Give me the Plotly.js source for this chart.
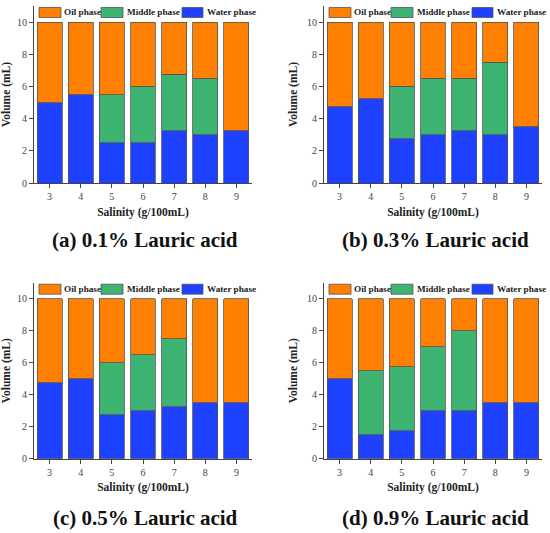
<!DOCTYPE html>
<html>
<head>
<meta charset="utf-8">
<script src="https://cdn.plot.ly/plotly-3.0.1.min.js"></script>
<style>html,body{margin:0;padding:0;background:#fff}#chart{width:550px;height:533px}</style>
</head>
<body>
<div id="chart"></div>
<script>
// ---- data ----
const salinity = [3, 4, 5, 6, 7, 8, 9];
const seriesNames = ['Oil phase', 'Middle phase', 'Water phase'];
const panelTitles = ['(a) 0.1% Lauric acid', '(b) 0.3% Lauric acid', '(c) 0.5% Lauric acid', '(d) 0.9% Lauric acid'];

const waterA  = [5, 5.5, 2.5, 2.5, 3.25, 3, 3.25];
const middleA = [0, 0, 3, 3.5, 3.5, 3.5, 0];
const oilA    = [5, 4.5, 4.5, 4, 3.25, 3.5, 6.75];

const waterB  = [4.75, 5.25, 2.75, 3, 3.25, 3, 3.5];
const middleB = [0, 0, 3.25, 3.5, 3.25, 4.5, 0];
const oilB    = [5.25, 4.75, 4, 3.5, 3.5, 2.5, 6.5];

const waterC  = [4.75, 5, 2.75, 3, 3.25, 3.5, 3.5];
const middleC = [0, 0, 3.25, 3.5, 4.25, 0, 0];
const oilC    = [5.25, 5, 4, 3.5, 2.5, 6.5, 6.5];

const waterD  = [5, 1.5, 1.75, 3, 3, 3.5, 3.5];
const middleD = [0, 4, 4, 4, 5, 0, 0];
const oilD    = [5, 4.5, 4.25, 3, 2, 6.5, 6.5];

const yTicks = [0, 2, 4, 6, 8, 10];

// ---- styling / layout ----
const W = 550, H = 533;
const colors = {oil: '#FF7F00', middle: '#3CB371', water: '#1E40FF'};
const edge = '#555555';
const serif = 'Liberation Serif, Times New Roman, serif';
const px = v => v / W;
const py = v => 1 - v / H;

const panels = [
  {water: waterA, middle: middleA, oil: oilA, left: 34, top: 6,     bottom: 183,   capY: 240},
  {water: waterB, middle: middleB, oil: oilB, left: 324, top: 6,    bottom: 183,   capY: 240},
  {water: waterC, middle: middleC, oil: oilC, left: 34, top: 282.7, bottom: 458.7, capY: 518},
  {water: waterD, middle: middleD, oil: oilD, left: 324, top: 282.7, bottom: 458.7, capY: 518}
];
const axW = 218;

const traces = [];
const layout = {
  width: W, height: H,
  margin: {l: 0, r: 0, t: 0, b: 0},
  paper_bgcolor: '#fff', plot_bgcolor: '#fff',
  barmode: 'stack', bargap: 0.2,
  showlegend: false,
  font: {family: serif, color: '#333'},
  shapes: [], annotations: []
};

panels.forEach((p, i) => {
  const n = i === 0 ? '' : String(i + 1);
  const xa = 'x' + n, ya = 'y' + n;
  const mk = (vals, name, col) => ({
    type: 'bar', x: salinity, y: vals, name: name, xaxis: xa, yaxis: ya,
    marker: {color: col, line: {color: edge, width: 0.8}},
    hoverinfo: 'x+y+name'
  });
  traces.push(mk(p.water, seriesNames[2], colors.water));
  traces.push(mk(p.middle, seriesNames[1], colors.middle));
  traces.push(mk(p.oil, seriesNames[0], colors.oil));

  layout['xaxis' + n] = {
    domain: [px(p.left), px(p.left + axW)], anchor: ya,
    range: [2.5, 9.5], tickvals: salinity, ticktext: salinity.map(String),
    showline: true, linecolor: '#444', linewidth: 1, ticks: 'outside', ticklen: 4, tickcolor: '#444',
    showgrid: false, zeroline: false, fixedrange: true,
    tickfont: {family: serif, size: 10, color: '#444'},
    title: {text: 'Salinity (g/100mL)', font: {family: serif, size: 11.5, color: '#222', weight: 'bold'}, standoff: 6}
  };
  layout['yaxis' + n] = {
    domain: [py(p.bottom), py(p.top)], anchor: xa,
    range: [0, 11], tickvals: yTicks, ticktext: yTicks.map(String),
    showline: true, linecolor: '#444', linewidth: 1, ticks: 'outside', ticklen: 4, tickcolor: '#444',
    showgrid: false, zeroline: false, fixedrange: true,
    tickfont: {family: serif, size: 10, color: '#444'},
    title: {text: 'Volume (mL)', font: {family: serif, size: 11.5, color: '#222', weight: 'bold'}, standoff: 6}
  };

  // custom legend (rectangular swatches)
  const cy = p.top + 6.5;
  const items = [
    {name: seriesNames[0], col: colors.oil, sx: 5, sw: 22, tx: 28},
    {name: seriesNames[1], col: colors.middle, sx: 67, sw: 22, tx: 91},
    {name: seriesNames[2], col: colors.water, sx: 148, sw: 21, tx: 171}
  ];
  items.forEach(it => {
    layout.shapes.push({
      type: 'rect', xref: 'paper', yref: 'paper',
      x0: px(p.left + it.sx), x1: px(p.left + it.sx + it.sw),
      y0: py(cy + 5), y1: py(cy - 5),
      fillcolor: it.col, line: {color: edge, width: 0.8}
    });
    layout.annotations.push({
      text: it.name, xref: 'paper', yref: 'paper',
      x: px(p.left + it.tx), y: py(cy), xanchor: 'left', yanchor: 'middle',
      showarrow: false, font: {family: serif, size: 9.2, color: '#222', weight: 'bold'}
    });
  });

  // panel caption
  layout.annotations.push({
    text: panelTitles[i], xref: 'paper', yref: 'paper',
    x: px(p.left + axW / 2 + 2), y: py(p.capY), xanchor: 'center', yanchor: 'middle',
    showarrow: false, font: {family: serif, size: 21, color: '#111', weight: 'bold'}
  });
});

Plotly.newPlot('chart', traces, layout, {displayModeBar: false, staticPlot: true});
</script>
</body>
</html>
